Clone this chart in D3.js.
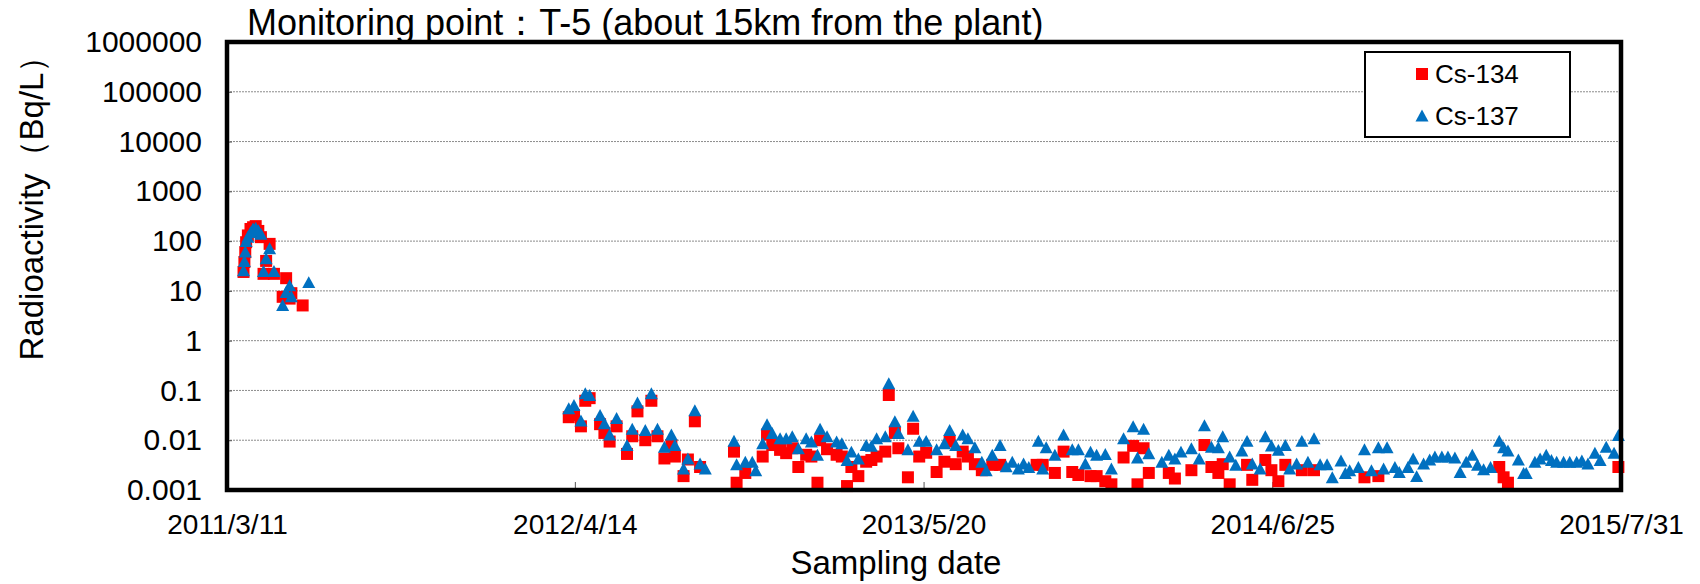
<!DOCTYPE html>
<html>
<head>
<meta charset="utf-8">
<title>Monitoring point T-5</title>
<script src="https://d3js.org/d3.v7.min.js"></script>
<style>
  body { margin: 0; background: #fff; }
  text { font-family: "Liberation Sans", Arial, sans-serif; fill: #000; }
</style>
</head>
<body>
<div id="chart"></div>
<script>
// sampling day, counted in days after 2011/3/11
var sampleDay = [
  19, 20, 21, 22, 24, 27, 30, 33, 36, 39, 42, 45, 49, 54, 64, 68, 72, 74, 87, 94,
  393, 399, 407, 412, 417, 429, 434, 440, 448, 460, 466, 472, 481, 488, 495, 503, 511, 515, 525, 530, 538, 544, 550,
  583, 586, 596, 604, 608, 616, 621, 627, 636, 643, 650, 657, 666, 672, 679, 682, 690, 701, 707, 713, 718, 726, 735, 741, 747, 757, 761, 768, 772,
  783, 789, 796, 804, 816, 825, 831, 838, 846, 852, 860, 868, 873, 880, 889, 896, 903, 910, 916, 922, 931, 933, 938, 942, 952, 962, 972, 979, 987, 993,
  1000, 1010, 1017, 1031, 1042, 1047, 1054, 1060, 1075, 1083, 1090, 1097, 1109, 1118, 1124, 1132, 1140, 1145, 1153, 1160, 1167, 1173, 1179, 1188, 1194,
  1201, 1209, 1217, 1222, 1230, 1236, 1243, 1250, 1257, 1265, 1271, 1281, 1286, 1291, 1301, 1308, 1316, 1324, 1330, 1334, 1343, 1348, 1358, 1364, 1368,
  1376, 1383, 1389, 1397, 1404, 1412, 1418, 1425, 1432, 1438, 1445, 1453, 1463, 1468, 1473, 1485, 1491, 1494, 1504, 1510, 1517, 1523, 1529, 1537, 1544,
  1552, 1558, 1565, 1573, 1579, 1586, 1595, 1600
];

// Cs-134 (Bq/L), null = not detected
var cs134 = [
  24, 38, 60, 95, 130, 175, 190, 200, 160, 120, 22, 40, 88, 22, 7.6, 18, 7.0, 9, 5.1, null,
  0.029, 0.032, 0.019, 0.062, 0.070, 0.021, 0.014, 0.0094, 0.019, 0.0053, 0.012, 0.038, 0.010, 0.062, 0.012, 0.0043, 0.008, 0.0047, 0.0019, 0.0041, 0.024, 0.0029, null,
  0.0059, 0.0014, 0.0022, null, null, 0.0047, 0.013, 0.008, 0.0064, 0.0055, 0.0069, 0.0029, 0.0051, 0.0047, 0.0014, 0.010, 0.0066, 0.0051, 0.0047, 0.0012, 0.0029, 0.0019, 0.0037, 0.004, 0.0047, 0.0059, 0.081, 0.014, 0.0069,
  0.0018, 0.017, 0.0047, 0.0056, 0.0023, 0.0037, 0.0094, 0.0033, 0.0059, 0.0047, 0.0033, 0.0025, null, 0.0032, 0.0032, null, null, null, null, null, 0.0032, null, 0.0032, null, 0.0022, 0.0059, 0.0023, 0.002, null, 0.0019,
  0.0019, 0.0015, 0.0013, 0.0045, 0.0077, 0.0013, 0.0069, 0.0022, null, 0.0022, 0.0017, null, 0.0025, null, 0.008, 0.0029, 0.0022, 0.0033, 0.0013, null, null, 0.0032, 0.0016, null, 0.004,
  0.0025, 0.0015, 0.0032, null, null, 0.0025, null, 0.0025, null, null, null, null, null, null, null, 0.0018, null, 0.0019, null, null, null, null, null, null, null,
  null, null, null, null, null, null, null, null, null, null, null, null, 0.0029, 0.0018, 0.0014, null, null, null, null, null, null, null, null, null, null,
  null, null, null, null, null, null, null, 0.0029
];

// Cs-137 (Bq/L)
var cs137 = [
  26, 40, 62, 100, 122, 150, 180, 185, 165, 140, 25, 45, 72, 25, 5.2, 9.5, 13, 7.8, null, 15,
  0.044, 0.051, 0.025, 0.088, 0.081, 0.032, 0.022, 0.013, 0.028, 0.008, 0.017, 0.057, 0.016, 0.088, 0.017, 0.0074, 0.013, 0.008, 0.0027, 0.0043, 0.040, 0.0034, 0.0027,
  0.0098, 0.0033, 0.0037, 0.0037, 0.0025, 0.0087, 0.021, 0.014, 0.011, 0.011, 0.012, 0.0069, 0.011, 0.0094, 0.0051, 0.017, 0.012, 0.0094, 0.0087, 0.004, 0.0059, 0.0043, 0.008, 0.0077, 0.011, 0.012, 0.139, 0.024, 0.014,
  0.0066, 0.031, 0.0097, 0.0097, 0.0066, 0.0087, 0.016, 0.008, 0.013, 0.011, 0.0072, 0.0037, 0.0025, 0.0051, 0.008, 0.003, 0.0037, 0.0027, 0.0034, 0.0029, null, 0.0098, 0.0027, 0.0072, 0.0051, 0.013, 0.0066, 0.0066, 0.0034, 0.0059,
  0.0051, 0.0053, 0.0027, 0.011, 0.019, 0.0045, 0.017, 0.0055, 0.0037, 0.0051, 0.0043, 0.0059, 0.0069, 0.0043, 0.020, 0.0074, 0.0072, 0.012, 0.0047, 0.0032, 0.0062, 0.0097, 0.0034, 0.0027, 0.012,
  0.0078, 0.0064, 0.008, 0.0027, 0.0034, 0.0097, 0.0037, 0.011, 0.0033, 0.0033, 0.0018, 0.0039, 0.0022, 0.0025, 0.0029, 0.0066, 0.0025, 0.0072, 0.0027, 0.0072, 0.0029, 0.0023, 0.0029, 0.0043, 0.0019,
  0.0034, 0.0041, 0.0047, 0.0047, 0.0047, 0.0045, 0.0023, 0.0037, 0.0051, 0.0032, 0.0026, 0.0029, 0.0098, 0.0072, 0.0062, 0.0041, 0.0022, 0.0022, 0.0037, 0.0043, 0.0051, 0.004, 0.0037, 0.0037, 0.0037,
  0.0037, 0.0039, 0.0034, 0.0056, 0.004, 0.0074, 0.0056, 0.0127
];

var xTickLabels = ["2011/3/11", "2012/4/14", "2013/5/20", "2014/6/25", "2015/7/31"];
var yTickValues = [1000000, 100000, 10000, 1000, 100, 10, 1, 0.1, 0.01, 0.001];
var seriesNames = ["Cs-134", "Cs-137"];
var seriesColors = ["#ff0000", "#0070c0"];

var width = 1700, height = 584;
var margin = { top: 42, right: 79, bottom: 94, left: 227 };
var plotW = width - margin.left - margin.right,
    plotH = height - margin.top - margin.bottom;

var parseTick = d3.utcParse("%Y/%m/%d");
var fmtTick = d3.utcFormat("%Y/%-m/%-d");
var tickDates = xTickLabels.map(function(s) { return parseTick(s); });
var startDate = tickDates[0];

var x = d3.scaleUtc()
    .domain([tickDates[0], tickDates[tickDates.length - 1]])
    .range([0, plotW]);
var y = d3.scaleLog()
    .domain([0.001, 1000000])
    .range([plotH, 0]);

// triangle centred on its bounding box, like the spreadsheet marker
var triangleMarker = {
    draw: function(ctx, size) {
        var w = Math.sqrt(size), h = w * 0.92;
        ctx.moveTo(0, -h / 2);
        ctx.lineTo(w / 2, h / 2);
        ctx.lineTo(-w / 2, h / 2);
        ctx.closePath();
    }
};
var squarePath = d3.symbol(d3.symbolSquare, 144)();
var trianglePath = d3.symbol(triangleMarker, 169)();

var svg = d3.select("#chart").append("svg")
    .attr("width", width)
    .attr("height", height);

var g = svg.append("g")
    .attr("transform", "translate(" + margin.left + "," + margin.top + ")");

// gridlines
g.selectAll(".grid")
    .data(yTickValues.slice(1, -1))
    .enter().append("line")
    .attr("class", "grid")
    .attr("x1", 0).attr("x2", plotW)
    .attr("y1", function(d) { return y(d); })
    .attr("y2", function(d) { return y(d); })
    .attr("stroke", "#8c8c8c")
    .attr("stroke-width", 1)
    .attr("stroke-dasharray", "2,1");

// x axis
var xAxis = g.append("g")
    .attr("transform", "translate(0," + plotH + ")")
    .call(d3.axisBottom(x).tickValues(tickDates).tickFormat(fmtTick)
        .tickSizeInner(-8).tickSizeOuter(0).tickPadding(24));
xAxis.select(".domain").remove();
xAxis.selectAll("line").attr("stroke", "#555");
xAxis.selectAll("text").attr("font-size", 28).attr("font-family", "Liberation Sans, Arial, sans-serif");

// y axis
var yAxis = g.append("g")
    .call(d3.axisLeft(y).tickValues(yTickValues).tickFormat(function(d) { return String(d); })
        .tickSizeInner(-5).tickSizeOuter(0).tickPadding(25));
yAxis.select(".domain").remove();
yAxis.selectAll("line").attr("stroke", "#555");
yAxis.selectAll("text").attr("font-size", 30).attr("font-family", "Liberation Sans, Arial, sans-serif");

// points
var pts134 = [], pts137 = [];
sampleDay.forEach(function(d, i) {
    var dt = d3.utcDay.offset(startDate, d);
    if (cs134[i] != null) pts134.push({ date: dt, value: cs134[i] });
    if (cs137[i] != null) pts137.push({ date: dt, value: cs137[i] });
});

g.selectAll(".cs134")
    .data(pts134)
    .enter().append("path")
    .attr("class", "cs134")
    .attr("d", squarePath)
    .attr("fill", seriesColors[0])
    .attr("transform", function(d) { return "translate(" + x(d.date) + "," + y(d.value) + ")"; });

g.selectAll(".cs137")
    .data(pts137)
    .enter().append("path")
    .attr("class", "cs137")
    .attr("d", trianglePath)
    .attr("fill", seriesColors[1])
    .attr("transform", function(d) { return "translate(" + x(d.date) + "," + y(d.value) + ")"; });

// plot frame
g.append("rect")
    .attr("width", plotW).attr("height", plotH)
    .attr("fill", "none")
    .attr("stroke", "#000")
    .attr("stroke-width", 4.5);

// legend
var legend = svg.append("g").attr("transform", "translate(1365,52)");
legend.append("rect")
    .attr("width", 205).attr("height", 85)
    .attr("fill", "#fff")
    .attr("stroke", "#000")
    .attr("stroke-width", 2);
var items = legend.selectAll(".item")
    .data(seriesNames)
    .enter().append("g")
    .attr("transform", function(d, i) { return "translate(0," + (22 + i * 41.5) + ")"; });
items.append("path")
    .attr("d", function(d, i) { return i === 0 ? squarePath : trianglePath; })
    .attr("fill", function(d, i) { return seriesColors[i]; })
    .attr("transform", "translate(57,0)");
items.append("text")
    .attr("x", 70).attr("y", 9)
    .attr("font-size", 26)
    .text(function(d) { return d; });

// titles
svg.append("text")
    .attr("x", 247).attr("y", 35)
    .attr("font-size", 36)
    .text("Monitoring point：T-5 (about 15km from the plant)");

svg.append("text")
    .attr("x", 896).attr("y", 574)
    .attr("text-anchor", "middle")
    .attr("font-size", 33)
    .text("Sampling date");

svg.append("text")
    .attr("transform", "translate(43,200) rotate(-90)")
    .attr("text-anchor", "middle")
    .attr("font-size", 33)
    .text("Radioactivity（Bq/L）");
</script>
</body>
</html>
